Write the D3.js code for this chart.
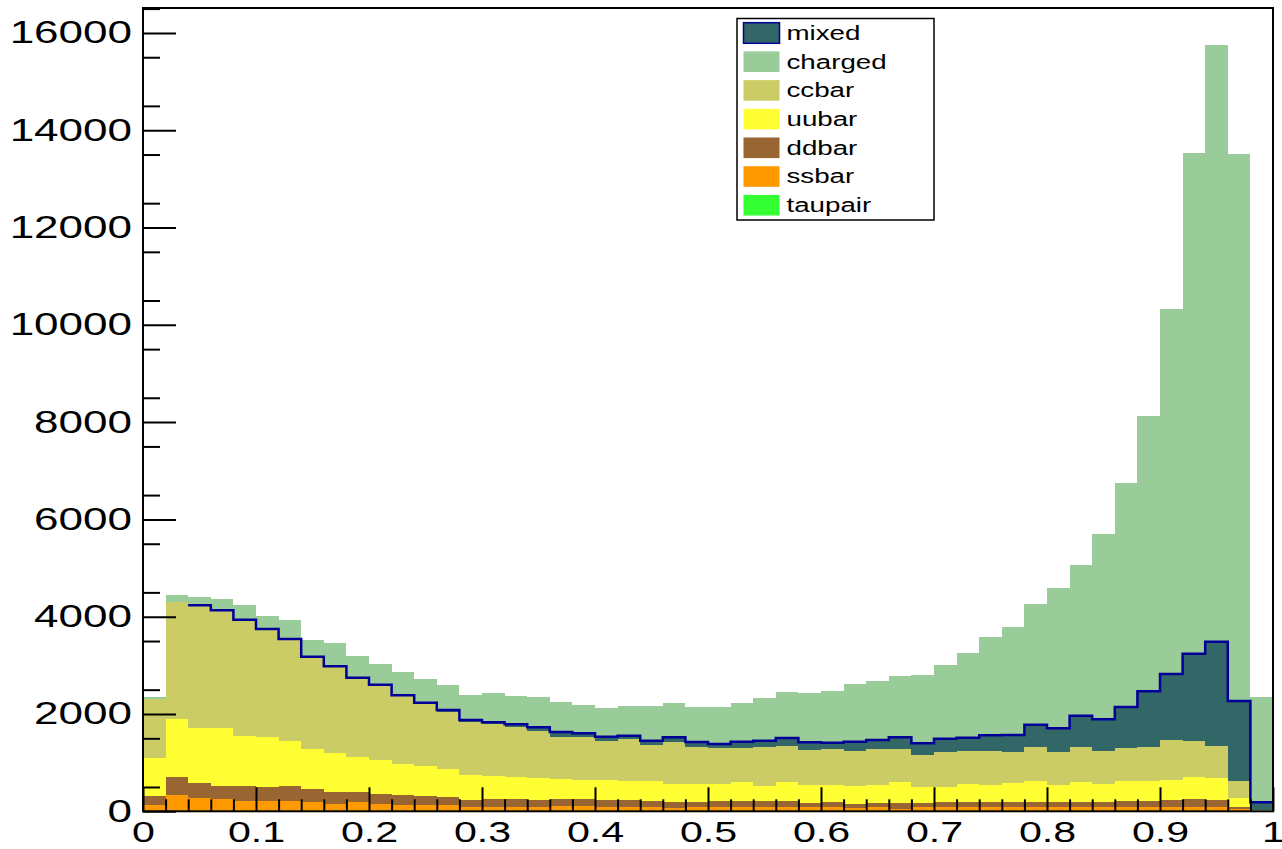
<!DOCTYPE html>
<html>
<head>
<meta charset="utf-8">
<script src="https://cdn.jsdelivr.net/npm/d3@7"></script>
<style>
  body { margin: 0; background: #fff; }
  svg { display: block; }
  text { font-family: "Liberation Sans", Arial, Helvetica, sans-serif; }
</style>
</head>
<body>
<svg id="chart" width="1282" height="849"></svg>
<script>
// 50 bins from 0 to 1
const binLow = [0.00, 0.02, 0.04, 0.06, 0.08, 0.10, 0.12, 0.14, 0.16, 0.18,
  0.20, 0.22, 0.24, 0.26, 0.28, 0.30, 0.32, 0.34, 0.36, 0.38,
  0.40, 0.42, 0.44, 0.46, 0.48, 0.50, 0.52, 0.54, 0.56, 0.58,
  0.60, 0.62, 0.64, 0.66, 0.68, 0.70, 0.72, 0.74, 0.76, 0.78,
  0.80, 0.82, 0.84, 0.86, 0.88, 0.90, 0.92, 0.94, 0.96, 0.98];
const binHigh = 1.0;

const taupair = [10, 10, 10, 10, 10, 10, 10, 10, 10, 10,
  10, 10, 10, 10, 10, 10, 10, 10, 10, 10,
  10, 10, 10, 10, 10, 10, 10, 10, 10, 10,
  10, 10, 10, 10, 10, 10, 10, 10, 10, 10,
  10, 10, 10, 10, 10, 10, 10, 10, 3, 0];
const ssbar = [120, 325, 263, 243, 208, 208, 208, 188, 147, 174,
  147, 119, 119, 119, 85, 85, 85, 85, 99, 99,
  85, 85, 85, 58, 71, 71, 71, 71, 71, 71,
  71, 51, 71, 44, 71, 71, 71, 71, 71, 71,
  71, 71, 71, 85, 85, 85, 85, 85, 38, 5];
const ddbar = [185, 363, 316, 267, 302, 281, 295, 260, 246, 219,
  198, 206, 185, 158, 137, 151, 151, 137, 137, 137,
  137, 137, 123, 130, 117, 131, 131, 131, 131, 83,
  103, 82, 83, 116, 83, 103, 103, 103, 103, 117,
  103, 103, 103, 117, 117, 137, 151, 137, 54, 3];
const uubar = [785, 1199, 1116, 1192, 1035, 1035, 932, 823, 788, 706,
  699, 637, 617, 575, 514, 486, 466, 445, 418, 397,
  411, 398, 412, 370, 356, 342, 390, 315, 383, 370,
  350, 377, 377, 432, 335, 315, 377, 357, 391, 418,
  357, 418, 370, 418, 418, 418, 452, 459, 172, 2];
const ccbar = [1216, 2412, 2515, 2403, 2365, 2196, 2080, 1879, 1769, 1616,
  1526, 1388, 1289, 1186, 1096, 1062, 1028, 980, 870, 877,
  809, 849, 740, 863, 774, 740, 692, 795, 754, 726,
  747, 713, 733, 685, 665, 727, 678, 698, 651, 706,
  678, 726, 685, 671, 692, 809, 754, 651, 356, 20];
const mixed = [0, 0, 14, 16, 19, 17, 17, 18, 20, 22,
  23, 24, 13, 34, 35, 35, 48, 69, 96, 83,
  82, 76, 82, 89, 96, 89, 137, 130, 158, 158,
  130, 198, 192, 233, 233, 267, 275, 322, 342, 459,
  486, 638, 651, 843, 1144, 1363, 1788, 2144, 1644, 155];
const charged = [27, 137, 178, 226, 295, 267, 383, 350, 473, 438,
  432, 486, 493, 507, 507, 596, 582, 617, 610, 582,
  589, 616, 719, 706, 727, 754, 795, 877, 938, 1020,
  1055, 1193, 1219, 1261, 1411, 1514, 1733, 2015, 2213, 2480,
  2878, 3099, 3820, 4600, 5655, 7505, 10296, 12263, 11238, 2171];

// stack order bottom -> top, legend order top -> bottom
const stackKeys = ["taupair", "ssbar", "ddbar", "uubar", "ccbar", "mixed", "charged"];
const legendKeys = ["mixed", "charged", "ccbar", "uubar", "ddbar", "ssbar", "taupair"];
const colors = {
  mixed: "#336666", charged: "#99cc99", ccbar: "#cccc66", uubar: "#ffff33",
  ddbar: "#996633", ssbar: "#ff9900", taupair: "#33ff33"
};

const xTicks = [0, 0.1, 0.2, 0.3, 0.4, 0.5, 0.6, 0.7, 0.8, 0.9, 1];
const yTicks = [0, 2000, 4000, 6000, 8000, 10000, 12000, 14000, 16000];
const yMax = 16512;

const frame = { left: 143, right: 1273, top: 8, bottom: 811.3 };
const stretch = 1.42; // the reference text is wider than it is tall

const svg = d3.select("#chart");
const x = d3.scaleLinear().domain([0, binHigh]).range([frame.left, frame.right]);
const y = d3.scaleLinear().domain([0, yMax]).range([frame.bottom, frame.top]);

const series = { taupair, ssbar, ddbar, uubar, ccbar, mixed, charged };
const rows = binLow.map((b, i) => {
  let r = { low: b };
  stackKeys.forEach(k => r[k] = series[k][i]);
  return r;
});
const stacked = d3.stack().keys(stackKeys)(rows);

function stepPoints(layer, from) {
  let pts = layer.map((d, i) => ({ x: binLow[i], top: d[1] })).slice(from || 0);
  pts.push({ x: binHigh, top: layer[layer.length - 1][1] });
  return pts;
}

const area = d3.area()
  .x(d => x(d.x))
  .y0(y(0))
  .y1(d => y(d.top))
  .curve(d3.curveStepAfter);

// draw the biggest sum first so the smaller ones sit on top of it
const plot = svg.append("g");
stacked.slice().reverse().forEach(layer => {
  plot.append("path")
    .datum(stepPoints(layer))
    .attr("d", area)
    .style("fill", colors[layer.key])
    .style("stroke", "none")
    .attr("shape-rendering", "crispEdges");
});

// mixed has a dark blue outline (its first two bins are empty)
const mixedLayer = stacked.find(l => l.key === "mixed");
plot.append("path")
  .datum(stepPoints(mixedLayer, 2))
  .attr("d", d3.line().x(d => x(d.x)).y(d => y(d.top)).curve(d3.curveStepAfter))
  .style("fill", "none")
  .style("stroke", "#000099")
  .style("stroke-width", 2.5);

// axes
const xMinor = d3.range(0, 51).map(i => i / 50).filter(v => Math.round(v * 50) % 5 !== 0);
const yMinor = d3.range(500, yMax, 1000);

svg.append("g")
  .attr("transform", `translate(0,${frame.bottom})`)
  .call(d3.axisBottom(x).tickValues(xMinor).tickSize(-12).tickFormat(""))
  .call(g => g.select(".domain").remove());
svg.append("g")
  .attr("class", "xaxis")
  .attr("transform", `translate(0,${frame.bottom})`)
  .call(d3.axisBottom(x).tickValues(xTicks).tickSize(-24).tickPadding(10.5)
    .tickFormat(d => d3.format("~g")(d)))
  .call(g => g.select(".domain").remove());

svg.append("g")
  .attr("transform", `translate(${frame.left},0)`)
  .call(d3.axisLeft(y).tickValues(yMinor).tickSize(-17).tickFormat(""))
  .call(g => g.select(".domain").remove());
svg.append("g")
  .attr("class", "yaxis")
  .attr("transform", `translate(${frame.left},0)`)
  .call(d3.axisLeft(y).tickValues(yTicks).tickSize(-33).tickPadding(11).tickFormat(d3.format("d")))
  .call(g => g.select(".domain").remove());

svg.selectAll(".tick line").style("stroke", "#000").style("stroke-width", 2);
svg.selectAll(".xaxis text, .yaxis text")
  .style("fill", "#000")
  .style("font-family", "'Liberation Sans', Arial, sans-serif")
  .attr("transform", function() {
    let ax = +d3.select(this).attr("x") || 0;
    return `translate(${ax},0) scale(${stretch},1) translate(${-ax},0)`;
  });
svg.selectAll(".xaxis text").style("font-size", "29px");
svg.selectAll(".yaxis text").style("font-size", "31px");

svg.append("rect")
  .attr("x", frame.left)
  .attr("y", frame.top)
  .attr("width", frame.right - frame.left)
  .attr("height", frame.bottom - frame.top)
  .style("fill", "none")
  .style("stroke", "#000")
  .style("stroke-width", 2);

// legend
const leg = { x: 737, y: 18.5, w: 197, h: 201.5, row: 28.7 };
const lg = svg.append("g");
lg.append("rect")
  .attr("x", leg.x).attr("y", leg.y)
  .attr("width", leg.w).attr("height", leg.h)
  .style("fill", "#fff")
  .style("stroke", "#000")
  .style("stroke-width", 1.5);

legendKeys.forEach((k, i) => {
  let cy = 33 + i * leg.row;
  lg.append("rect")
    .attr("x", 743.5).attr("y", cy - 10.3)
    .attr("width", 36).attr("height", 20.6)
    .style("fill", colors[k])
    .style("stroke", k === "mixed" ? "#000099" : "none")
    .style("stroke-width", 1.5);
  lg.append("text")
    .attr("x", 786.5)
    .attr("y", cy + 7)
    .attr("transform", `translate(786.5,0) scale(1.32,1) translate(-786.5,0)`)
    .text(k)
    .style("font-size", "21px")
    .style("fill", "#000");
});
</script>
</body>
</html>
